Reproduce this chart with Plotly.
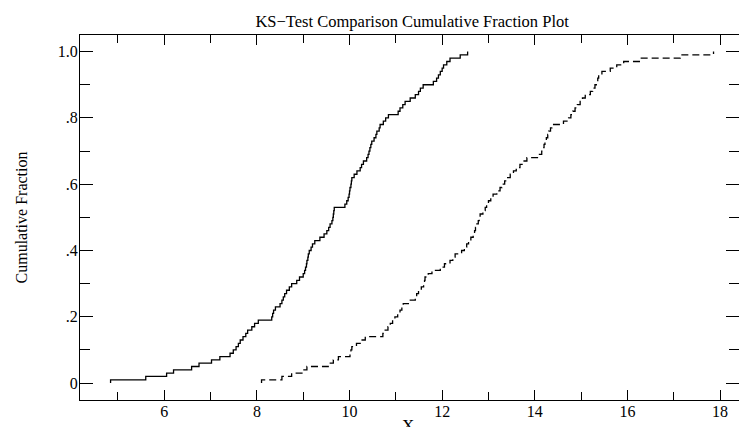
import plotly.graph_objects as go

# Sorted sample values (100 points each)
sample_solid = [
    4.84, 5.60, 6.05, 6.20, 6.59, 6.75, 7.02, 7.20, 7.42, 7.49,
    7.55, 7.60, 7.64, 7.70, 7.76, 7.80, 7.89, 7.95, 8.03, 8.32,
    8.34, 8.36, 8.40, 8.50, 8.54, 8.57, 8.60, 8.64, 8.70, 8.75,
    8.86, 8.92, 9.00, 9.03, 9.05, 9.07, 9.08, 9.10, 9.11, 9.13,
    9.17, 9.20, 9.25, 9.36, 9.45, 9.51, 9.55, 9.58, 9.62, 9.64,
    9.65, 9.66, 9.67, 9.90, 9.94, 9.97, 9.99, 10.00, 10.01, 10.03,
    10.04, 10.05, 10.10, 10.16, 10.23, 10.26, 10.30, 10.37, 10.40, 10.42,
    10.44, 10.46, 10.48, 10.53, 10.57, 10.59, 10.64, 10.66, 10.73, 10.78,
    10.84, 11.05, 11.09, 11.15, 11.20, 11.31, 11.42, 11.49, 11.53, 11.59,
    11.81, 11.88, 11.92, 11.96, 12.00, 12.03, 12.10, 12.17, 12.39, 12.55,
]
sample_dashed = [
    8.10, 8.54, 8.75, 9.00, 9.08, 9.54, 9.65, 9.76, 10.01, 10.03,
    10.05, 10.15, 10.23, 10.34, 10.72, 10.77, 10.83, 10.88, 10.93, 10.98,
    11.04, 11.09, 11.13, 11.16, 11.27, 11.42, 11.45, 11.49, 11.55, 11.60,
    11.62, 11.63, 11.70, 11.78, 11.96, 12.05, 12.17, 12.23, 12.28, 12.42,
    12.48, 12.53, 12.57, 12.62, 12.67, 12.70, 12.72, 12.75, 12.78, 12.80,
    12.82, 12.88, 12.93, 12.96, 13.00, 13.05, 13.10, 13.18, 13.25, 13.29,
    13.35, 13.40, 13.47, 13.54, 13.60, 13.68, 13.75, 13.83, 14.08, 14.15,
    14.17, 14.20, 14.22, 14.25, 14.28, 14.30, 14.34, 14.37, 14.62, 14.73,
    14.78, 14.82, 14.87, 14.92, 14.98, 15.03, 15.09, 15.20, 15.25, 15.30,
    15.33, 15.36, 15.38, 15.45, 15.63, 15.77, 15.92, 16.30, 17.14, 17.86,
]

x_tick_vals = [6, 8, 10, 12, 14, 16, 18]
x_tick_text = ["6", "8", "10", "12", "14", "16", "18"]
y_tick_vals = [0, 0.2, 0.4, 0.6, 0.8, 1.0]
y_tick_text = ["0", ".2", ".4", ".6", ".8", "1.0"]

title_text = "KS\u2212Test Comparison Cumulative Fraction Plot"
x_title = "X"
y_title = "Cumulative Fraction"


def ecdf(sample):
    s = sorted(sample)
    n = len(s)
    xs = [s[0]] + s
    ys = [0.0] + [(i + 1) / n for i in range(n)]
    return xs, ys


FONT = "Liberation Serif, Times New Roman, serif"

xs1, ys1 = ecdf(sample_solid)
xs2, ys2 = ecdf(sample_dashed)

fig = go.Figure()
fig.add_trace(go.Scatter(x=xs1, y=ys1, mode="lines", line_shape="hv",
                         line=dict(color="black", width=1.3), hoverinfo="skip"))
fig.add_trace(go.Scatter(x=xs2, y=ys2, mode="lines", line_shape="hv",
                         line=dict(color="black", width=1.3, dash="7px,4px"),
                         hoverinfo="skip"))
# invisible trace so the right-hand tick axis is drawn
fig.add_trace(go.Scatter(x=[xs1[0]], y=[ys1[0]], yaxis="y2", mode="lines",
                         line=dict(color="rgba(0,0,0,0)"), hoverinfo="skip"))

common_y = dict(range=[-0.051, 1.05], tickvals=y_tick_vals, ticks="inside",
                ticklen=13, tickwidth=1.2, tickcolor="black", showgrid=False,
                zeroline=False, automargin=False,
                minor=dict(dtick=0.1, tick0=0, ticks="inside", ticklen=10,
                           tickwidth=1.2, tickcolor="black", showgrid=False))

fig.update_layout(
    width=739, height=427,
    margin=dict(l=80, r=0, t=35, b=27),
    paper_bgcolor="white", plot_bgcolor="white",
    showlegend=False,
    font=dict(family=FONT, color="black", size=16),
    title=dict(text=title_text, x=0.504, xref="paper", xanchor="center",
               y=1 - 21 / 427, yref="container", yanchor="middle",
               font=dict(family=FONT, size=16.5, color="black")),
    xaxis=dict(range=[4.18, 18.41], tickvals=x_tick_vals, ticktext=x_tick_text,
               ticks="inside", ticklen=10, tickwidth=1.2, tickcolor="black",
               showline=True, linecolor="black", linewidth=1.3, mirror="ticks",
               showgrid=False, zeroline=False, automargin=False,
               ticklabelstandoff=-3,
               minor=dict(dtick=1, tick0=0, ticks="inside", ticklen=8,
                          tickwidth=1.2, tickcolor="black", showgrid=False),
               tickfont=dict(family=FONT, size=16)),
    yaxis=dict(**common_y, ticktext=y_tick_text, showline=True,
               linecolor="black", linewidth=1.3, mirror=False,
               ticklabelstandoff=-2,
               tickfont=dict(family=FONT, size=16),
               title=dict(text=y_title, standoff=26,
                          font=dict(family=FONT, size=16))),
    yaxis2=dict(**common_y, overlaying="y", side="right", anchor="x",
                showticklabels=False, showline=False),
    annotations=[dict(text=x_title, xref="paper", yref="paper",
                      x=0.4975, y=-(414 - 400) / 365, xanchor="center",
                      yanchor="top", showarrow=False,
                      font=dict(family=FONT, size=17, color="black"))],
)

fig.write_html("out.html")
